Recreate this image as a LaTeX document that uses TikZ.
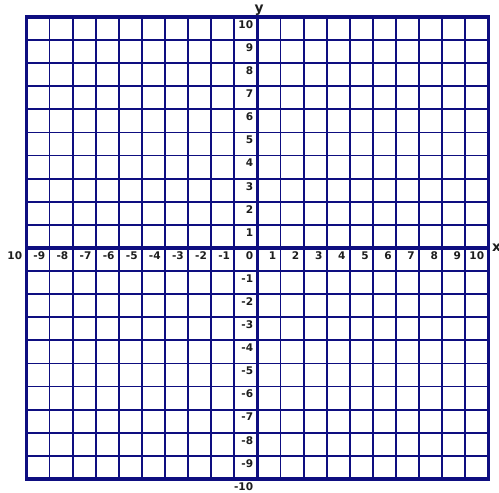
\documentclass[tikz,border=0pt]{standalone}
\usepackage{fontspec}
\setmainfont{DejaVu Sans}
\usetikzlibrary{positioning}
\definecolor{gridblue}{RGB}{14,14,128}
\definecolor{labelgray}{RGB}{30,30,30}
\tikzset{every node/.append style={font=\fontsize{6.5}{7}\selectfont\bfseries,text=labelgray,inner sep=1pt}}
\tikzset{thinline/.style={draw=gridblue,line width=1.1pt},
  thickline/.style={draw=gridblue,line width=2.4pt},
  ticklabel/.style={anchor=north east,xshift=-1.5pt,yshift=-1pt},
  axisname/.style={font=\fontsize{8.5}{9}\selectfont\bfseries}}

\begin{document}
\begin{tikzpicture}[x=0.5cm,y=0.5cm]
  \useasboundingbox (-11.147,-10.606) rectangle (10.455,10.736);
  \foreach \k in {-9,...,9} {
    \draw[thinline] (\k,-10) -- (\k,10);
    \draw[thinline] (-10,\k) -- (10,\k);
  }
  \draw[thickline] (-10,0) -- (10,0);
  \draw[thickline] (0,-10) -- (0,10);
  \draw[thickline] (-10,-10) rectangle (10,10);

  % numbers along the axes
  \node[ticklabel] (xlab-10) at (-10,0) {10};
  \foreach \i in {-9,...,10}
    \node[ticklabel] (xlab\i) at (\i,0) {\i};
  \foreach \j in {-10,...,-1,1,2,...,10}
    \node[ticklabel] (ylab\j) at (0,\j) {\j};

  \node[axisname,anchor=south,xshift=1pt,yshift=-0.5pt] (ylabel) at (0,10) {y};
  \node[axisname,anchor=west,xshift=1pt] (xlabel) at (10,0) {x};
\end{tikzpicture}
\end{document}
